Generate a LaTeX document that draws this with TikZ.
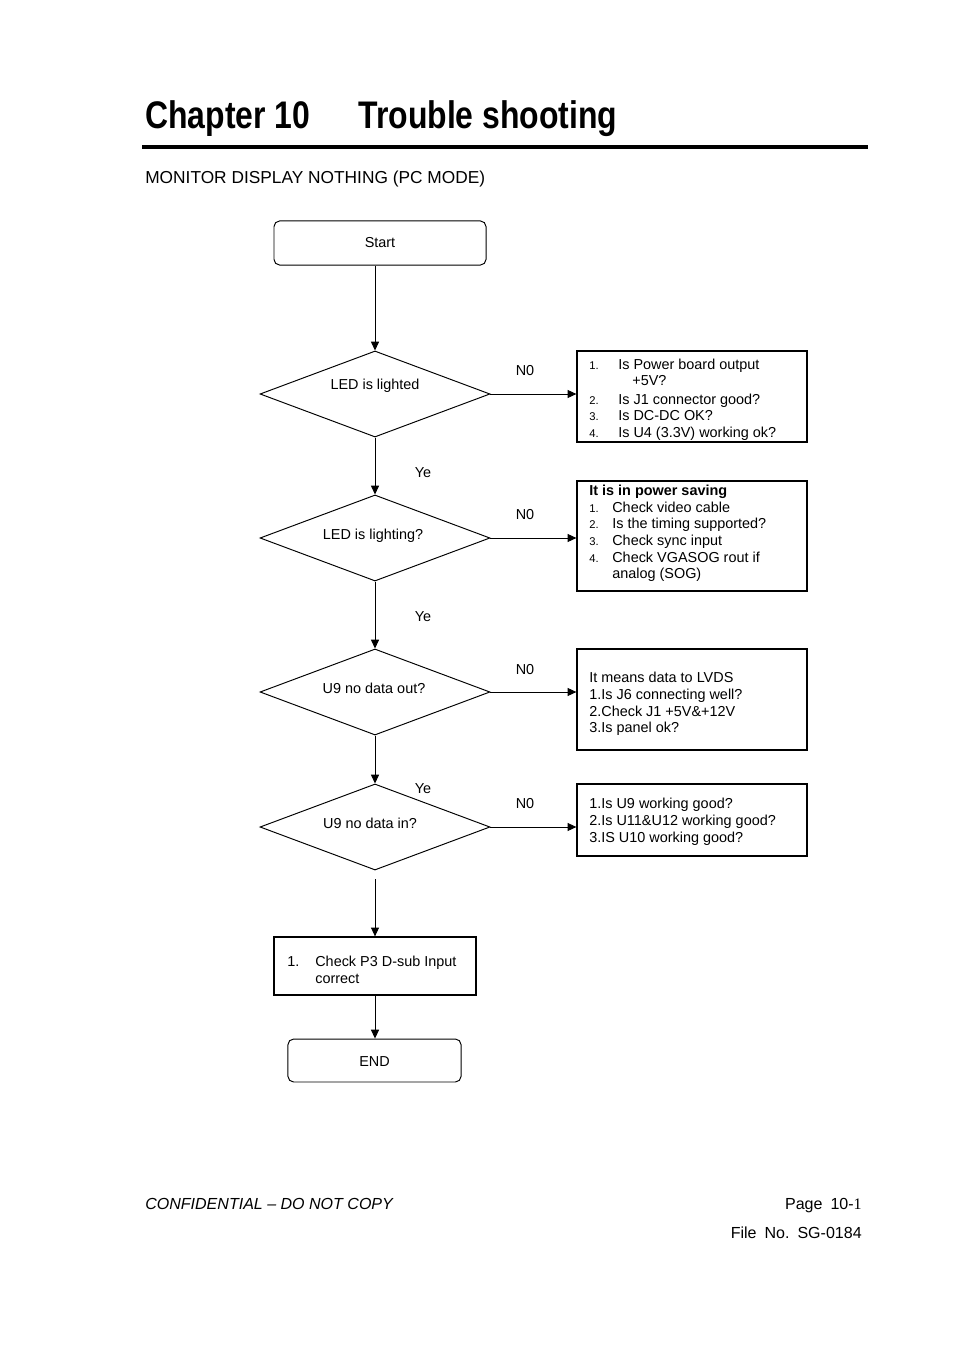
\documentclass[tikz,border=0pt]{standalone}
\usepackage{graphicx}
\usepackage{fontspec}
\setmainfont{Liberation Sans}
\newfontfamily\seriffam{Liberation Serif}
\usetikzlibrary{arrows.meta,shapes.geometric}
\begin{document}
\begin{tikzpicture}[x=0.624pt,y=-0.624pt,
  txt/.style={anchor=base west,inner sep=0,font=\fontsize{9}{11}\selectfont},
  ctxt/.style={anchor=base,inner sep=0,font=\fontsize{9}{11}\selectfont},
  num/.style={anchor=base west,inner sep=0,font=\fontsize{7}{9}\selectfont},
  rbox/.style={draw,rounded corners=3.5pt,line width=0.6pt,inner sep=0},
  sbox/.style={draw,line width=0.8pt,inner sep=0},
  dec/.style={draw,diamond,aspect=2.674,minimum width=143.5pt,minimum height=53.7pt,inner sep=0,line width=0.6pt},
  arr/.style={-{Triangle[length=5.5pt,width=5pt]},line width=0.6pt},
  lab/.style={anchor=base,inner sep=0,font=\fontsize{9}{11}\selectfont}]
\useasboundingbox (0,0) rectangle (954,1351);
\fill[white] (0,0) rectangle (954,1351);

% header
\node[anchor=base west,inner sep=0,font=\fontsize{24}{28}\selectfont\bfseries] (ch) at (145,129) {\scalebox{0.83}[1]{Chapter 10}};
\node[anchor=base west,inner sep=0,font=\fontsize{24}{28}\selectfont\bfseries] (ts) at (358,129) {\scalebox{0.83}[1]{Trouble shooting}};
\draw[line width=1.9pt] (142,147) -- (868,147);
\node[anchor=base west,inner sep=0,font=\fontsize{10.8}{13}\selectfont] (sub) at (145,184) {MONITOR DISPLAY NOTHING (PC MODE)};

% nodes
\node[rbox,minimum width=132.3pt,minimum height=27.5pt] (start) at (380,243) {};
\node[ctxt] (starttxt) at (380,248) {Start};

\node[dec] (d1) at (375,394) {};
\node[ctxt] (d1t) at (375,390) {LED is lighted};
\node[dec] (d2) at (375,538) {};
\node[ctxt] (d2t) at (373,539) {LED is lighting?};
\node[dec] (d3) at (375,692) {};
\node[ctxt] (d3t) at (374,693) {U9 no data out?};
\node[dec] (d4) at (375,827) {};
\node[ctxt] (d4t) at (370,828) {U9 no data in?};

\node[sbox,minimum width=143.5pt,minimum height=56.8pt] (b1) at (692,396.5) {};
\node[sbox,minimum width=143.5pt,minimum height=68.6pt] (b2) at (692,536) {};
\node[sbox,minimum width=143.5pt,minimum height=63pt] (b3) at (692,699.5) {};
\node[sbox,minimum width=143.5pt,minimum height=44.9pt] (b4) at (692,820) {};
\node[sbox,minimum width=126pt,minimum height=36.2pt] (b5) at (375,966) {};
\node[rbox,minimum width=108pt,minimum height=26.8pt] (endb) at (374.5,1060.5) {};
\node[ctxt] (endt) at (374.5,1066) {END};

% box 1 text
\begin{scope}
\clip (578,352) rectangle (806,440);
\node[num] (b1n1) at (589,370) {1.};
\node[txt] (b1l1) at (618,370) {Is Power board output};
\node[txt] (b1l1b) at (632,386) {+5V?};
\node[num] (b1n2) at (589,404) {2.};
\node[txt] (b1l2) at (618,404) {Is J1 connector good?};
\node[num] (b1n3) at (589,421) {3.};
\node[txt] (b1l3) at (618,421) {Is DC-DC OK?};
\node[num] (b1n4) at (589,438) {4.};
\node[txt] (b1l4) at (618,438) {Is U4 (3.3V) working ok?};
\end{scope}

% box 2 text
\node[txt,font=\fontsize{9}{11}\selectfont\bfseries] (b2h) at (589,495.5) {It is in power saving};
\node[num] (b2n1) at (589,512) {1.};
\node[txt] (b2l1) at (612,512) {Check video cable};
\node[num] (b2n2) at (589,528.5) {2.};
\node[txt] (b2l2) at (612,528.5) {Is the timing supported?};
\node[num] (b2n3) at (589,545.5) {3.};
\node[txt] (b2l3) at (612,545.5) {Check sync input};
\node[num] (b2n4) at (589,562) {4.};
\node[txt] (b2l4) at (612,562) {Check VGASOG rout if};
\node[txt] (b2l5) at (612,578.5) {analog (SOG)};

% box 3 text
\node[txt] (b3l0) at (589,682) {It means data to LVDS};
\node[txt] (b3l1) at (589,699) {1.Is J6 connecting well?};
\node[txt] (b3l2) at (589,716) {2.Check J1 +5V\&+12V};
\node[txt] (b3l3) at (589,732) {3.Is panel ok?};

% box 4 text
\node[txt] (b4l1) at (589,808) {1.Is U9 working good?};
\node[txt] (b4l2) at (589,825) {2.Is U11\&U12 working good?};
\node[txt] (b4l3) at (589,842) {3.IS U10 working good?};

% box 5 text
\node[txt] (b5n) at (287,966) {1.};
\node[txt] (b5l1) at (315,966) {Check P3 D-sub Input};
\node[txt] (b5l2) at (315,983) {correct};

% connectors
\draw[arr] (d1.north |- start.south) -- (d1.north);
\draw[arr] (d1.south) -- (d2.north);
\draw[arr] (d2.south) -- (d3.north);
\draw[arr] (d3.south) -- (d4.north);
\draw[arr,shorten <=5.6pt] (d4.south) -- (b5.north);
\draw[arr] (b5.south) -- (b5.south |- endb.north);
\draw[arr] (d1.east) -- (d1.east -| b1.west);
\draw[arr] (d2.east) -- (d2.east -| b2.west);
\draw[arr] (d3.east) -- (d3.east -| b3.west);
\draw[arr] (d4.east) -- (d4.east -| b4.west);

% labels
\node[lab] (n1) at (525,376) {N0};
\node[lab] (n2) at (525,519) {N0};
\node[lab] (n3) at (525,674) {N0};
\node[lab] (n4) at (525,808) {N0};
\node[lab] (y1) at (423,477) {Ye};
\node[lab] (y2) at (423,621) {Ye};
\node[lab] (y3) at (423,793) {Ye};

% footer
\node[anchor=base west,inner sep=0,font=\fontsize{10}{12}\selectfont\itshape] (conf) at (145,1209) {CONFIDENTIAL -- DO NOT COPY};
\node[anchor=base east,inner sep=0,font=\fontsize{10}{12}\selectfont] (page) at (862,1209) {Page\hspace{5pt}10-{\seriffam 1}};
\node[anchor=base east,inner sep=0,font=\fontsize{10}{12}\selectfont] (file) at (862,1238) {File\hspace{5pt}No.\hspace{5pt}SG-0184};
\end{tikzpicture}
\end{document}
